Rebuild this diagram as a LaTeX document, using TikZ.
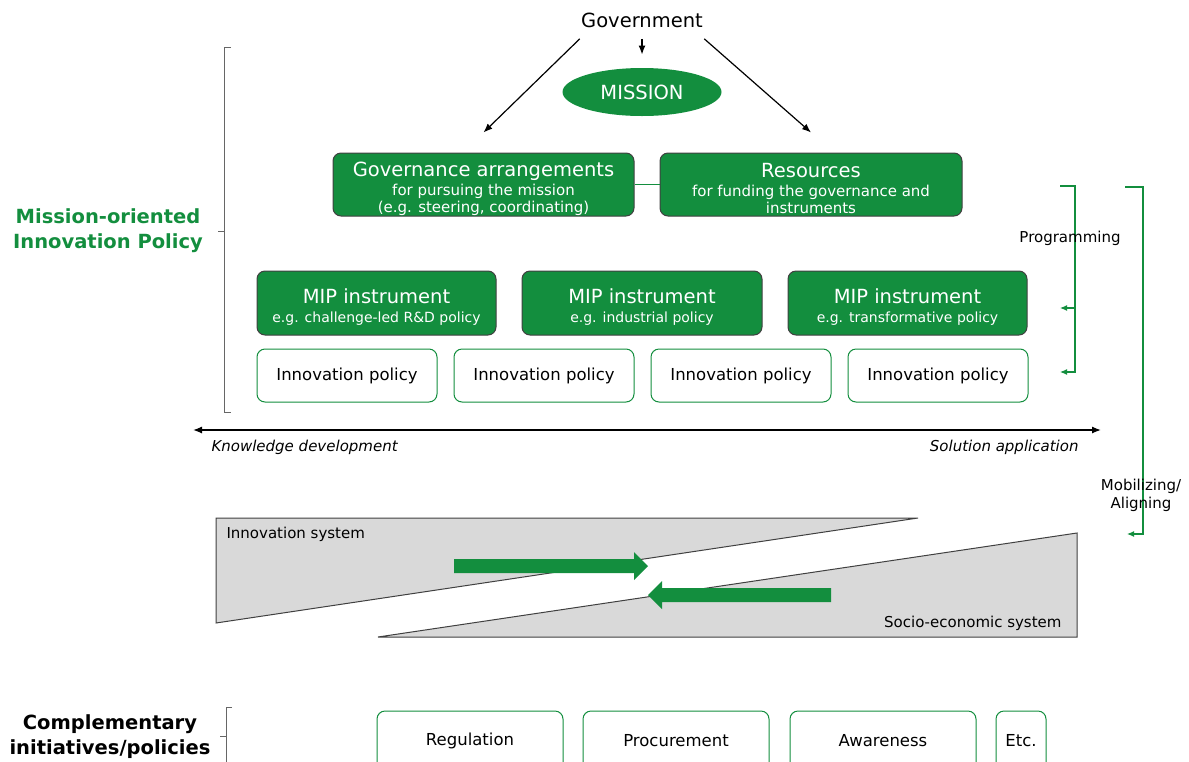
\documentclass[tikz,border=0pt]{standalone}
\usepackage{xcolor}
\usepackage{fontspec}
\setmainfont{DejaVu Sans}
\usepackage{tikz}
\usetikzlibrary{arrows.meta, shapes.geometric}

\definecolor{mipgreen}{RGB}{19,142,62}
\definecolor{bordergray}{RGB}{64,64,64}
\definecolor{sysgray}{RGB}{217,217,217}

\newcommand{\toppad}{\rule{0pt}{23pt}}

\begin{document}
\begin{tikzpicture}[
		x=1pt, y=-1pt,
		line width=1pt,
		every node/.style={inner sep=0pt},
		big font/.style={font=\fontsize{19.5}{22}\selectfont},
		desc/.style={font=\fontsize{15}{18}\selectfont},
		green box/.style={draw=bordergray, fill=mipgreen, rounded corners=8pt, text=white, align=center, font=\fontsize{15}{17}\selectfont},
		policy box/.style={draw=mipgreen, fill=white, rounded corners=8pt, font=\fontsize{16.5}{20}\selectfont},
		side label/.style={align=center, text=mipgreen, font=\bfseries\fontsize{19.5}{25}\selectfont},
		gov arrow/.style={-{Latex[length=9pt, width=7pt]}, line width=1.2pt},
		side arrow/.style={-{Latex[length=7pt, width=6pt]}, mipgreen, line width=1.1pt},
		bracket/.style={bordergray!80, line width=0.9pt},
		system/.style={draw=bordergray, fill=sysgray}
		]

	\useasboundingbox (0,0) rectangle (1189,761);

	% Government and mission
	\node[big font] (gov) at (642,20) {Government};
	\node[ellipse, fill=mipgreen, text=white, big font, minimum width=159pt, minimum height=48pt] (mission) at (642,92) {MISSION};

	% Governance and resources
	\node[green box, minimum width=301pt, minimum height=63pt] (govern) at (483.5,184.5)
		{{\fontsize{19.5}{22}\selectfont\toppad Governance arrangements}\\[2pt] for pursuing the mission\\ (e.g. steering, coordinating)};
	\node[green box, minimum width=302pt, minimum height=63pt] (res) at (811,184.5)
		{{\fontsize{19.5}{22}\selectfont\toppad Resources}\\[2pt] for funding the governance and\\ instruments};
	\draw[mipgreen] (govern.east) -- (res.west);

	\draw[gov arrow] ([xshift=-1pt, yshift=-11pt]gov.south west) -- ([yshift=20pt]govern.north);
	\draw[gov arrow] ([xshift=1pt, yshift=-11pt]gov.south east) -- ([yshift=20pt]res.north);
	\draw[gov arrow] ([yshift=-11pt]gov.south) -- ([yshift=13pt]mission.north);

	% MIP instruments
	\node[green box, minimum width=239pt, minimum height=64pt, font=\fontsize{14}{17}\selectfont] (mip1) at (376.5,303)
		{{\fontsize{19.5}{22}\selectfont\toppad MIP instrument}\\[2pt] e.g. challenge-led R\&D policy};
	\node[green box, minimum width=240pt, minimum height=64pt, font=\fontsize{14}{17}\selectfont] (mip2) at (642,303)
		{{\fontsize{19.5}{22}\selectfont\toppad MIP instrument}\\[2pt] e.g. industrial policy};
	\node[green box, minimum width=239pt, minimum height=64pt, font=\fontsize{14}{17}\selectfont] (mip3) at (907.5,303)
		{{\fontsize{19.5}{22}\selectfont\toppad MIP instrument}\\[2pt] e.g. transformative policy};

	% Innovation policies
	\foreach \x/\name in {347/inno1, 544/inno2, 741/inno3, 938/inno4}{
		\node[policy box, minimum width=180pt, minimum height=53pt] (\name) at (\x,375.5) {Innovation policy};
	}

	% Left bracket
	\draw[bracket] (231,47) -- (224,47) -- (224,412) -- (231,412);
	\draw[bracket] (224,231) -- (218,231);
	\node[side label] (mop) at (108,231) {Mission-oriented\\Innovation Policy};

	% Knowledge -- application axis
	\coordinate (axis left) at (193,430);
	\coordinate (axis right) at (1101,430);
	\draw[{Latex[length=9pt, width=7pt]}-{Latex[length=9pt, width=7pt]}, line width=1.3pt] (axis left) -- (axis right);
	\node[desc, anchor=west] (kd) at (211,447) {\itshape Knowledge development};
	\node[desc, anchor=east] (sa) at (1079,447) {\itshape Solution application};

	% Programming bracket
	\coordinate (prog top) at (1060,186);
	\coordinate (prog mip) at (1060,308);
	\coordinate (prog inno) at (1060,372);
	\draw[side arrow] (prog top) -- (1075,186) -- (1075,372) -- (prog inno);
	\draw[side arrow] (1075,308) -- (prog mip);
	\node[desc] (prog) at (1070,238) {Programming};

	% Mobilizing bracket
	\coordinate (mob top) at (1125,187);
	\coordinate (mob end) at (1127,534);
	\draw[side arrow] (mob top) -- (1143,187) -- (1143,534) -- (mob end);
	\node[desc, align=center, font=\fontsize{15}{18}\selectfont] (mob) at (1141,495) {Mobilizing/\\Aligning};

	% Systems
	\draw[system] (216,518) -- (918,518) -- (216,623) -- cycle;
	\draw[system] (378,637) -- (1077,637) -- (1077,533) -- cycle;
	\node[desc, anchor=west] (innosys) at (226,534) {Innovation system};
	\node[desc, anchor=east] (socsys) at (1062,623) {Socio-economic system};

	% Flows between systems
	\fill[mipgreen] (454,559) -- (634,559) -- (634,552) -- (648,566) -- (634,580) -- (634,573) -- (454,573) -- cycle;
	\fill[mipgreen] (831,588) -- (662,588) -- (662,581) -- (648,595) -- (662,609) -- (662,602) -- (831,602) -- cycle;

	% Complementary initiatives
	\draw[bracket] (232,707) -- (226,707) -- (226,766);
	\draw[bracket] (226,736) -- (220,736);
	\node[side label, text=black] (comp) at (110,737) {Complementary\\initiatives/policies};

	\foreach \x/\w/\name/\label in {470/186/regul/Regulation, 676/186/procu/Procurement, 883/186/aware/Awareness, 1021/50/etc/Etc.}{
		\node[policy box, minimum width=\w pt, minimum height=60pt] (\name) at (\x,741) {\label};
	}

\end{tikzpicture}
\end{document}
